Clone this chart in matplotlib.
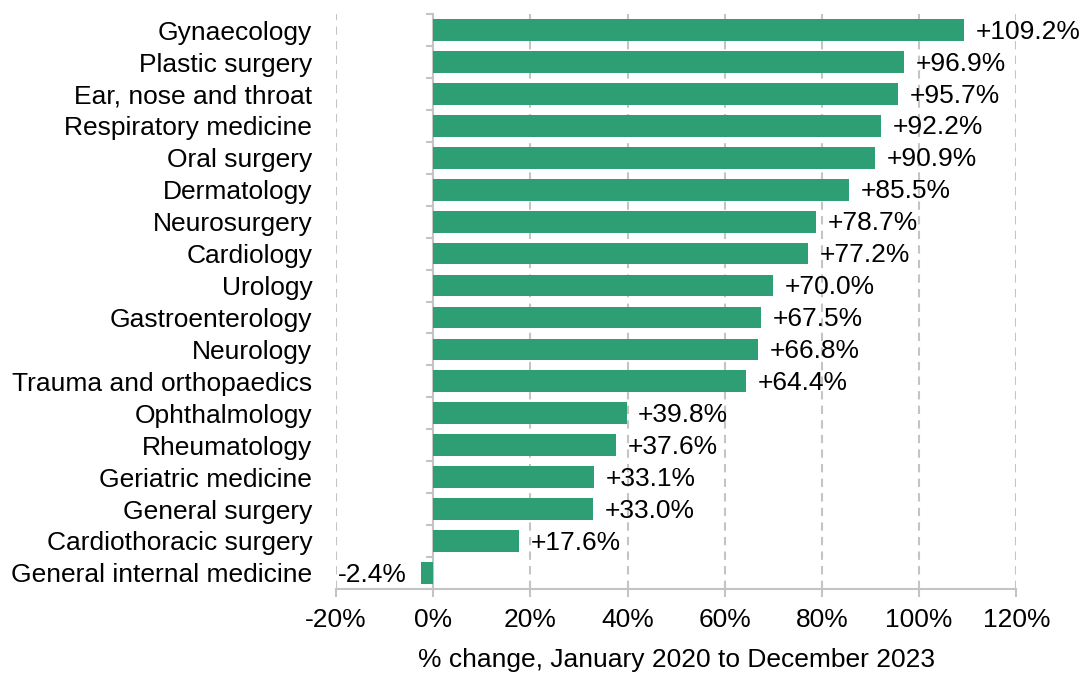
"""Horizontal bar chart: % change by specialty, Jan 2020 to Dec 2023."""

import matplotlib

matplotlib.use("Agg")
import matplotlib.pyplot as plt
from matplotlib.ticker import FuncFormatter
import numpy as np

SPECIALTIES = [
    "Gynaecology",
    "Plastic surgery",
    "Ear, nose and throat",
    "Respiratory medicine",
    "Oral surgery",
    "Dermatology",
    "Neurosurgery",
    "Cardiology",
    "Urology",
    "Gastroenterology",
    "Neurology",
    "Trauma and orthopaedics",
    "Ophthalmology",
    "Rheumatology",
    "Geriatric medicine",
    "General surgery",
    "Cardiothoracic surgery",
    "General internal medicine",
]
PCT_CHANGE = [109.2, 96.9, 95.7, 92.2, 90.9, 85.5, 78.7, 77.2, 70.0,
              67.5, 66.8, 64.4, 39.8, 37.6, 33.1, 33.0, 17.6, -2.4]
X_TICKS = [-20, 0, 20, 40, 60, 80, 100, 120]
X_MIN, X_MAX = -20, 120

BAR_COLOR = "#2E9E74"
AXIS_GRAY = "#C4C4C4"
FS = 19

plt.rcParams["font.family"] = ["Liberation Sans", "DejaVu Sans"]

fig = plt.figure(figsize=(10.87, 6.73), dpi=100)
ax = fig.add_axes([0.309, 0.125, 0.626, 0.854])

y = np.arange(len(SPECIALTIES))
ax.barh(y, PCT_CHANGE, height=0.68, color=BAR_COLOR, zorder=3)

for yi, v in zip(y, PCT_CHANGE):
    label = f"{v:+.1f}%"
    if v >= 0:
        ax.text(v + 2.4, yi + 0.05, label, va="center", ha="left", fontsize=FS, zorder=4)
    else:
        ax.text(v - 3.0, yi + 0.05, label, va="center", ha="right", fontsize=FS, zorder=4)

ax.set_xlim(X_MIN, X_MAX)
ax.set_ylim(len(SPECIALTIES) - 0.5, -0.5)
ax.set_xticks(X_TICKS)
ax.xaxis.set_major_formatter(FuncFormatter(lambda v, _: f"{v:.0f}%"))
ax.set_yticks(y)
ax.set_yticklabels(SPECIALTIES, fontsize=FS)
ax.tick_params(axis="y", which="major", length=0, pad=17)
ax.tick_params(axis="x", which="major", length=6, color=AXIS_GRAY, width=1.5,
               labelsize=FS, pad=8)
ax.set_xlabel("% change, January 2020 to December 2023", fontsize=FS, labelpad=11)

for xv in X_TICKS:
    if xv != 0:
        ax.axvline(xv, color=AXIS_GRAY, linestyle=(0, (4, 3)), linewidth=1.5, zorder=1)

for side in ("top", "right", "left"):
    ax.spines[side].set_visible(False)
ax.spines["bottom"].set_color(AXIS_GRAY)
ax.spines["bottom"].set_linewidth(1.5)

# category axis line sits on the zero line, with ticks between categories
zero_pos = (0 - X_MIN) / (X_MAX - X_MIN)
sec = ax.secondary_yaxis(zero_pos)
sec.set_yticks(np.arange(-0.5, len(SPECIALTIES), 1.0))
sec.set_yticklabels([])
sec.tick_params(axis="y", length=5, color=AXIS_GRAY, width=1.5)
sec.spines["left"].set_color(AXIS_GRAY)
sec.spines["left"].set_linewidth(1.5)

fig.savefig("out.png", dpi=100)
